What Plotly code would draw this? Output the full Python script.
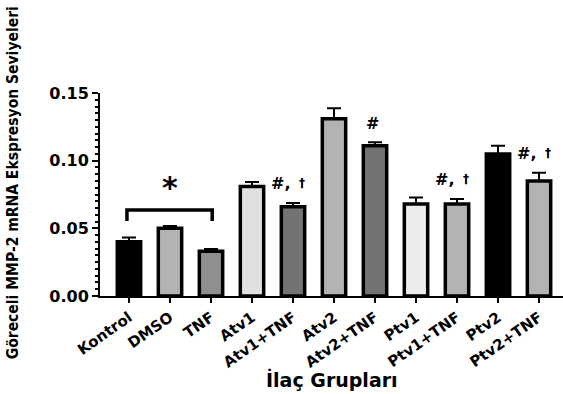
import plotly.graph_objects as go

# Groups, mean MMP-2 mRNA levels and SEM
groups = ["Kontrol", "DMSO", "TNF", "Atv1", "Atv1+TNF", "Atv2", "Atv2+TNF",
          "Ptv1", "Ptv1+TNF", "Ptv2", "Ptv2+TNF"]
means = [0.040, 0.050, 0.033, 0.081, 0.066, 0.131, 0.111, 0.068, 0.068, 0.105, 0.085]
sems = [0.0032, 0.0017, 0.0017, 0.0032, 0.0027, 0.0077, 0.0027, 0.0047, 0.0037, 0.0060, 0.0060]
colors = ["#000000", "#b3b3b3", "#8f8f8f", "#e0e0e0", "#737373", "#b3b3b3",
          "#737373", "#ececec", "#b3b3b3", "#000000", "#b3b3b3"]

# significance markers: (group index, with dagger)
hash_marks = [(4, True), (6, False), (8, True), (10, True)]

y_ticks = [0.00, 0.05, 0.10, 0.15]
x = list(range(len(groups)))

BOLD = "DejaVu Sans"

fig = go.Figure()
fig.add_trace(go.Bar(
    x=x, y=means, width=0.57,
    marker=dict(color=colors, line=dict(color="black", width=3.5)),
    error_y=dict(type="data", array=sems, arrayminus=[0] * len(sems),
                 symmetric=False, color="black", thickness=2, width=7),
))

annotations = []
for idx, dagger in hash_marks:
    top = means[idx] + sems[idx]
    if dagger:
        annotations.append(dict(x=idx - 0.31, y=top + 0.0145, xref="x", yref="y",
                                text="<b>#,</b>", showarrow=False,
                                font=dict(family=BOLD, size=16, color="black")))
        annotations.append(dict(x=idx + 0.21, y=top + 0.0145, xref="x", yref="y",
                                text="<b>†</b>", showarrow=False,
                                font=dict(family=BOLD, size=12, color="#000000")))
    else:
        annotations.append(dict(x=idx - 0.05, y=top + 0.0135, xref="x", yref="y",
                                text="<b>#</b>", showarrow=False,
                                font=dict(family=BOLD, size=16, color="black")))

# bracket between Kontrol and TNF with an asterisk
br_lo, br_hi = 0.0555, 0.0636
fig.add_shape(type="path", xref="x", yref="y",
              path=f"M -0.05 {br_lo} L -0.05 {br_hi} L 2.03 {br_hi} L 2.03 {br_lo}",
              line=dict(color="black", width=3.5))
annotations.append(dict(x=0.99, y=br_hi + 0.002, xref="x", yref="y", yanchor="bottom",
                        text="<b>*</b>", showarrow=False,
                        font=dict(family=BOLD, size=30, color="black")))

annotations.append(dict(x=-0.188, y=0.56, xref="paper", yref="paper",
                        text="<b>Göreceli MMP-2 mRNA Ekspresyon Seviyeleri</b>",
                        textangle=-90, showarrow=False, xanchor="center", yanchor="middle",
                        font=dict(family="DejaVu Sans Condensed, Liberation Sans",
                                  size=15.5, color="black")))
annotations.append(dict(x=0.50, y=-0.41, xref="paper", yref="paper",
                        text="<b>İlaç Grupları</b>", showarrow=False,
                        xanchor="center", yanchor="middle",
                        font=dict(family=BOLD, size=19, color="black")))

fig.update_layout(
    width=563, height=394,
    margin=dict(l=100, r=0, t=93, b=98),
    paper_bgcolor="white", plot_bgcolor="white",
    showlegend=False,
    annotations=annotations,
    xaxis=dict(
        range=[-0.707, 10.585], tickvals=x, ticktext=[f"<b>{g}</b>" for g in groups],
        tickangle=-35, ticks="outside", ticklen=5, tickwidth=2, tickcolor="black",
        showline=True, linecolor="black", linewidth=2, showgrid=False, zeroline=False,
        tickfont=dict(family=BOLD, size=15, color="black"),
    ),
    yaxis=dict(
        range=[0, 0.15], tickvals=y_ticks, ticktext=[f"<b>{v:.2f}</b>" for v in y_ticks],
        ticks="outside", ticklen=6, tickwidth=2, tickcolor="black",
        showline=True, linecolor="black", linewidth=2, showgrid=False, zeroline=False,
        tickfont=dict(family=BOLD, size=16, color="black"),
        minor=dict(dtick=0.005, ticks="outside", ticklen=3, tickwidth=1.5,
                   tickcolor="black", showgrid=False),
    ),
)

fig.write_html("out.html")
